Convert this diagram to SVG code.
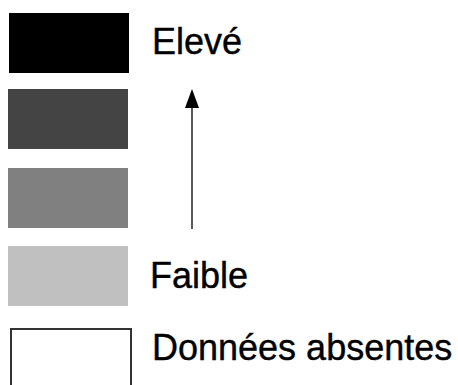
<svg xmlns="http://www.w3.org/2000/svg" width="458" height="385" viewBox="0 0 458 385">
<style>
.lbl{font-family:"Liberation Sans",Arial,sans-serif;font-size:36px;fill:#000;stroke:#000;stroke-width:0.4}
.sw{stroke:none}
</style>
<rect width="458" height="385" fill="#fff"/>
<g id="swatch-high"><rect class="sw" x="9" y="13" width="120" height="60" fill="#000"/></g>
<g id="swatch-2"><rect class="sw" x="8" y="89" width="120" height="60" fill="#444"/></g>
<g id="swatch-3"><rect class="sw" x="8" y="168" width="120" height="60" fill="#808080"/></g>
<g id="swatch-low"><rect class="sw" x="8" y="246" width="120" height="60" fill="#c0c0c0"/></g>
<g id="swatch-none"><rect x="11" y="329" width="120" height="60" fill="#fff" stroke="#333" stroke-width="2"/></g>
<g id="connectors">
<line x1="192" y1="229" x2="192" y2="100" stroke="#222" stroke-width="1.5"/>
<path d="M192,89 L185,108 L199,108 z" fill="#000"/>
</g>
<g id="label-eleve"><text class="lbl" x="152" y="54">Elevé</text></g>
<g id="label-faible"><text class="lbl" x="150" y="288">Faible</text></g>
<g id="label-absent"><text class="lbl" x="152" y="360">Données absentes</text></g>
</svg>
